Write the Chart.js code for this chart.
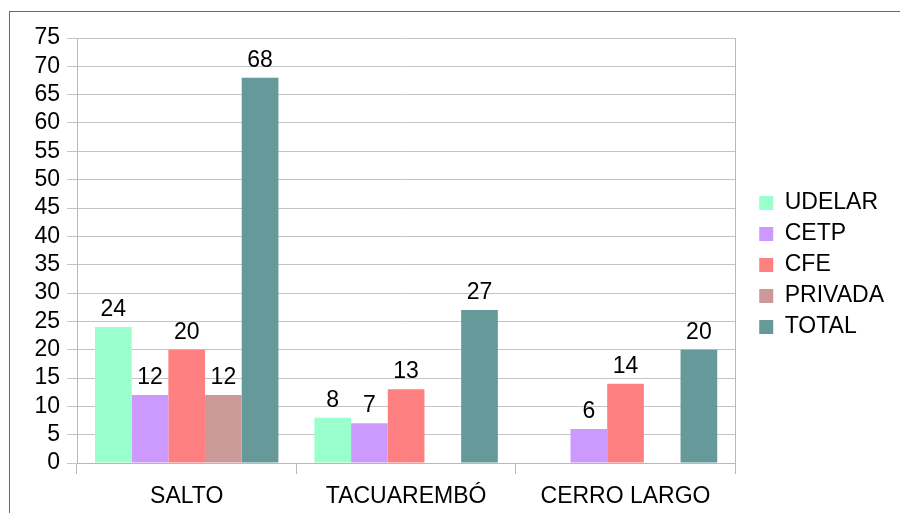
<!DOCTYPE html>
<html>
<head>
<meta charset="utf-8">
<script src="https://cdn.jsdelivr.net/npm/chart.js@4/dist/chart.umd.min.js"></script>
<style>
  html, body { margin: 0; padding: 0; background: #fff; overflow: hidden; }
  #marco {
    position: absolute; left: 9px; top: 11px; width: 891px; height: 502px;
    border-left: 1px solid #6a6a6a; border-top: 1px solid #6a6a6a;
  }
  #grafico { position: absolute; left: 0; top: 0; }
</style>
</head>
<body>
<div id="marco"><canvas id="grafico" width="890" height="501"></canvas></div>
<script>
// Categorías y series (cantidad por institución)
const sedes = ['SALTO', 'TACUAREMBÓ', 'CERRO LARGO'];
const udelar = [24, 8, null];
const cetp = [12, 7, 6];
const cfe = [20, 13, 14];
const privada = [12, null, null];
const total = [68, 27, 20];
const ticksY = [0, 5, 10, 15, 20, 25, 30, 35, 40, 45, 50, 55, 60, 65, 70, 75];

const fuente = { family: '"Liberation Sans", Arial, sans-serif', size: 23 };
const gris = '#c4c4c4';

// Escribe el valor encima de cada barra
const etiquetas = {
  id: 'etiquetas',
  afterDatasetsDraw(chart) {
    const ctx = chart.ctx;
    ctx.save();
    ctx.font = fuente.size + 'px ' + fuente.family;
    ctx.fillStyle = '#000';
    ctx.textAlign = 'center';
    ctx.textBaseline = 'alphabetic';
    chart.data.datasets.forEach((ds, i) => {
      chart.getDatasetMeta(i).data.forEach((bar, j) => {
        const v = ds.data[j];
        if (v === null || v === undefined) return;
        ctx.fillText(String(v), bar.x, bar.y - 11);
      });
    });
    ctx.restore();
  }
};

new Chart(document.getElementById('grafico').getContext('2d'), {
  type: 'bar',
  data: {
    labels: sedes,
    datasets: [
      { label: 'UDELAR', data: udelar, backgroundColor: '#99ffcc' },
      { label: 'CETP', data: cetp, backgroundColor: '#cc99ff' },
      { label: 'CFE', data: cfe, backgroundColor: '#ff8080' },
      { label: 'PRIVADA', data: privada, backgroundColor: '#cc9999' },
      { label: 'TOTAL', data: total, backgroundColor: '#669999' }
    ]
  },
  options: {
    responsive: false,
    animation: false,
    categoryPercentage: 0.836,
    barPercentage: 1,
    layout: { padding: { left: 0, top: 5, right: 6, bottom: 0 } },
    plugins: {
      tooltip: { enabled: false },
      // título vacío: solo deja margen arriba del área del gráfico
      title: {
        display: true,
        text: '',
        fullSize: false,
        font: { size: 10, lineHeight: 1 },
        padding: { top: 0, bottom: 11 }
      },
      legend: {
        position: 'right',
        labels: {
          font: fuente,
          color: '#000',
          boxWidth: 14,
          boxHeight: 14,
          padding: 8
        }
      }
    },
    scales: {
      x: {
        grid: {
          offset: true,
          drawOnChartArea: false,
          drawTicks: true,
          tickLength: 11,
          color: '#b8b8b8'
        },
        border: { display: true, color: '#b8b8b8' },
        ticks: {
          font: fuente,
          color: '#000',
          maxRotation: 0,
          autoSkip: false,
          padding: 9
        },
        afterFit(scale) { scale.height = 50; }
      },
      y: {
        min: 0,
        max: 75,
        afterBuildTicks(scale) { scale.ticks = ticksY.map(v => ({ value: v })); },
        grid: { color: gris, tickLength: 10 },
        border: { display: true, color: '#b8b8b8' },
        ticks: { font: fuente, color: '#000', padding: 7, autoSkip: false },
        afterFit(scale) { scale.width = 67; }
      },
      // eje derecho solo para el borde del área
      y2: {
        position: 'right',
        grid: { drawOnChartArea: false, drawTicks: false },
        border: { display: true, color: '#b8b8b8' },
        ticks: { display: false },
        afterFit(scale) { scale.width = 16; }
      }
    }
  },
  plugins: [etiquetas]
});
</script>
</body>
</html>
